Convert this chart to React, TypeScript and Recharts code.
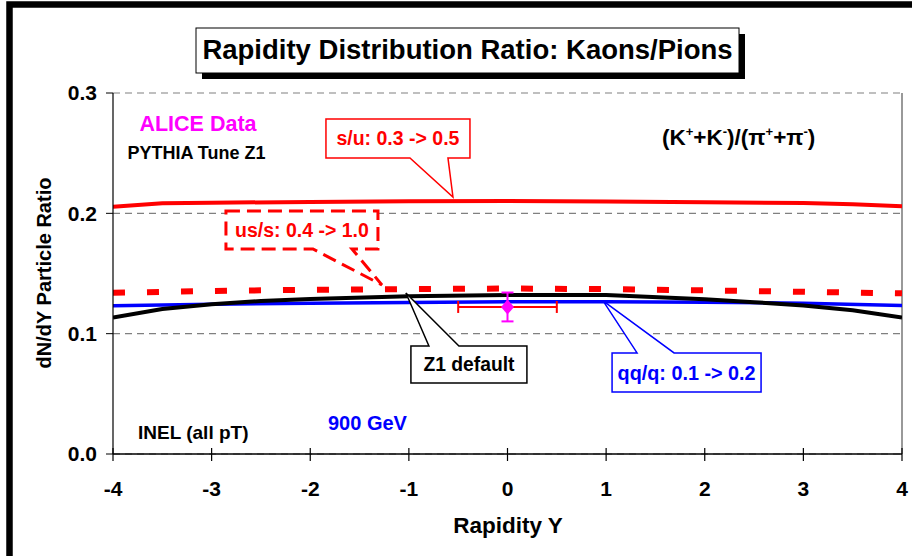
import React from "react";
import {
  ComposedChart,
  Line,
  Scatter,
  ErrorBar,
  XAxis,
  YAxis,
  CartesianGrid,
  ReferenceLine,
  ReferenceDot,
} from "recharts";

// ---------- data ----------
const xTicks = [-4, -3, -2, -1, 0, 1, 2, 3, 4];
const yTicks = [0, 0.1, 0.2, 0.3];

const suX = [-4, -3.5, -3, -2, -1, 0, 1, 2, 3, 3.5, 4];
const suY = [0.2055, 0.2083, 0.2088, 0.2095, 0.21, 0.2103, 0.2098, 0.2093, 0.2085, 0.2076, 0.2058];

const ussX = [-4, -3, -2, -1, 0, 1, 2, 3, 4];
const ussY = [0.134, 0.1355, 0.1365, 0.137, 0.1375, 0.137, 0.136, 0.1348, 0.1335];

const z1X = [-4, -3.5, -3, -2.5, -2, -1, 0, 1, 2, 2.5, 3, 3.5, 4];
const z1Y = [0.1135, 0.1205, 0.1245, 0.1272, 0.1288, 0.131, 0.1322, 0.1322, 0.1287, 0.1262, 0.1235, 0.1195, 0.1135];

const qqX = [-4, -3, -2, -1, 0, 1, 2, 3, 4];
const qqY = [0.1232, 0.1245, 0.1252, 0.126, 0.1265, 0.1266, 0.1262, 0.1252, 0.1235];

const aliceX = [0];
const aliceY = [0.1222];
const aliceErrX = [0.5];
const aliceErrY = [0.012];

// callout anchors (data coordinates of pointer tips) and texts
const calloutTexts = ["s/u: 0.3 -> 0.5", "us/s: 0.4 -> 1.0", "Z1 default", "qq/q: 0.1 -> 0.2"];
const calloutTipX = [-0.553, -1.273, -1.03, 0.969];
const calloutTipY = [0.2136, 0.1405, 0.1338, 0.1272];

const toPts = (xs: number[], ys: number[]) => xs.map((x, i) => ({ x, y: ys[i] }));
const suData = toPts(suX, suY);
const ussData = toPts(ussX, ussY);
const z1Data = toPts(z1X, z1Y);
const qqData = toPts(qqX, qqY);
const aliceData = aliceX.map((x, i) => ({ x, y: aliceY[i], ex: aliceErrX[i], ey: aliceErrY[i] }));

// ---------- styles ----------
const FONT = "'Liberation Sans', Arial, sans-serif";
const RED = "#FF0000";
const BLUE = "#0000FF";
const MAGENTA = "#FF00FF";

type CalloutStyle = {
  bx: number; by: number; w: number; h: number; b1: number; b2: number;
  side: "top" | "bottom"; color: string; dashed?: boolean; fontSize: number;
};
const calloutStyles: CalloutStyle[] = [
  { bx: -127, by: -78, w: 144, h: 39, b1: 84, b2: 122, side: "bottom", color: RED, fontSize: 19.5 },
  { bx: -156, by: -74, w: 152, h: 38, b1: 87, b2: 126, side: "bottom", color: RED, dashed: true, fontSize: 19.5 },
  { bx: 5, by: 53, w: 116, h: 37, b1: 18, b2: 48, side: "top", color: "#000", fontSize: 19.3 },
  { bx: 9, by: 52, w: 149, h: 39, b1: 25, b2: 62, side: "top", color: BLUE, fontSize: 19.8 },
];

function Callout(props: any) {
  const { cx, cy, st, text } = props as { cx: number; cy: number; st: CalloutStyle; text: string };
  if (cx == null || cy == null) return null;
  const L = cx + st.bx;
  const T = cy + st.by;
  const R = L + st.w;
  const B = T + st.h;
  let d: string;
  if (st.side === "bottom") {
    d = `M${L},${T} H${R} V${B} H${L + st.b2} L${cx},${cy} L${L + st.b1},${B} H${L} Z`;
  } else {
    d = `M${L},${T} H${L + st.b1} L${cx},${cy} L${L + st.b2},${T} H${R} V${B} H${L} Z`;
  }
  return (
    <g>
      <path
        d={d}
        fill="#fff"
        stroke={st.color}
        strokeWidth={st.dashed ? 3 : 1.5}
        strokeDasharray={st.dashed ? "14 7" : undefined}
        strokeLinejoin="miter"
      />
      <text
        x={(L + R) / 2}
        y={(T + B) / 2 + st.fontSize * 0.36}
        textAnchor="middle"
        fontFamily={FONT}
        fontWeight="bold"
        fontSize={st.fontSize}
        fill={st.color}
      >
        {text}
      </text>
    </g>
  );
}

function XTick(props: any) {
  const { x, y, payload } = props;
  return (
    <g>
      <line x1={x} x2={x} y1={y - 6} y2={y + 7} stroke="#000" strokeWidth={1.2} />
      <text x={x} y={y + 41.5} textAnchor="middle" fontFamily={FONT} fontWeight="bold" fontSize={21} fill="#000">
        {payload.value}
      </text>
    </g>
  );
}

function Diamond(props: any) {
  const { cx, cy } = props;
  if (cx == null || cy == null) return null;
  const w = 6.5;
  const h = 7.5;
  return <polygon points={`${cx},${cy - h} ${cx + w},${cy} ${cx},${cy + h} ${cx - w},${cy}`} fill={MAGENTA} />;
}

export default function App() {
  return (
    <div style={{ position: "absolute", left: 0, top: 0, width: 912, height: 556, background: "#fff", overflow: "hidden" }}>
      <ComposedChart
        width={912}
        height={556}
        margin={{ top: 93, right: 10, bottom: 72, left: 0 }}
        style={{ fontFamily: FONT }}
      >
        <CartesianGrid horizontal vertical={false} stroke="#808080" strokeDasharray="7 5" strokeWidth={1.2} />
        <XAxis
          type="number"
          dataKey="x"
          domain={[-4, 4]}
          ticks={xTicks}
          allowDataOverflow
          height={30}
          tickSize={0}
          tickMargin={0}
          tickLine={false}
          axisLine={{ stroke: "#000", strokeWidth: 1.5 }}
          tick={<XTick />}
          interval={0}
        />
        <YAxis
          type="number"
          domain={[0, 0.3]}
          ticks={yTicks}
          allowDataOverflow
          width={113}
          tickSize={7}
          tickMargin={9}
          tickFormatter={(v: number) => v.toFixed(1)}
          tick={{ fontSize: 21, fontWeight: "bold", fill: "#000", fontFamily: FONT }}
          tickLine={{ stroke: "#000" }}
          axisLine={{ stroke: "#000", strokeWidth: 1.2 }}
          interval={0}
        />
        <ReferenceLine x={4} stroke="#555" strokeWidth={1.2} />
        <Line data={qqData} dataKey="y" type="linear" stroke={BLUE} strokeWidth={3.5} dot={false} isAnimationActive={false} />
        <Line data={z1Data} dataKey="y" type="linear" stroke="#000" strokeWidth={4} dot={false} isAnimationActive={false} />
        <Line data={suData} dataKey="y" type="linear" stroke={RED} strokeWidth={4} dot={false} isAnimationActive={false} />
        <Line
          data={ussData}
          dataKey="y"
          type="linear"
          stroke={RED}
          strokeWidth={6}
          strokeDasharray="12 22"
          dot={false}
          isAnimationActive={false}
        />
        <Scatter data={aliceData} dataKey="y" shape={<Diamond />} isAnimationActive={false}>
          <ErrorBar dataKey="ex" direction="x" stroke={RED} strokeWidth={2} width={6} />
          <ErrorBar dataKey="ey" direction="y" stroke={MAGENTA} strokeWidth={2} width={6} />
        </Scatter>
        {calloutTexts.map((t, i) => (
          <ReferenceDot
            key={t}
            x={calloutTipX[i]}
            y={calloutTipY[i]}
            r={0}
            shape={(p: any) => <Callout cx={p.cx} cy={p.cy} st={calloutStyles[i]} text={t} />}
          />
        ))}
      </ComposedChart>
      <svg
        width={912}
        height={556}
        style={{ position: "absolute", left: 0, top: 0, pointerEvents: "none" }}
        fontFamily={FONT}
      >
        <rect x={9.5} y={4.5} width={1000} height={700} fill="none" stroke="#000" strokeWidth={6.5} />
        <rect x={202} y={34} width={543} height={45} fill="#000" />
        <rect x={196} y={28} width={543} height={45} fill="#fff" stroke="#000" strokeWidth={1} />
        <text x={467.5} y={59} textAnchor="middle" fontWeight="bold" fontSize={27.5} fill="#000">
          Rapidity Distribution Ratio: Kaons/Pions
        </text>
        <text transform="translate(51,273) rotate(-90)" textAnchor="middle" fontWeight="bold" fontSize={20} fill="#000">
          dN/dY Particle Ratio
        </text>
        <text x={508} y={533} textAnchor="middle" fontWeight="bold" fontSize={22.5} fill="#000">
          Rapidity Y
        </text>
        <text x={198} y={131} textAnchor="middle" fontWeight="bold" fontSize={21.5} fill={MAGENTA}>
          ALICE Data
        </text>
        <text x={196.5} y={158.5} textAnchor="middle" fontWeight="bold" fontSize={18} fill="#000">
          PYTHIA Tune Z1
        </text>
        <text x={662} y={145} fontWeight="bold" fontSize={22.5} fill="#000">
          (K
          <tspan fontSize={13} dy={-9}>+</tspan>
          <tspan dy={9}>+K</tspan>
          <tspan fontSize={13} dy={-9}>-</tspan>
          <tspan dy={9}>)/(π</tspan>
          <tspan fontSize={13} dy={-9}>+</tspan>
          <tspan dy={9}>+π</tspan>
          <tspan fontSize={13} dy={-9}>-</tspan>
          <tspan dy={9}>)</tspan>
        </text>
        <text x={138} y={439} fontWeight="bold" fontSize={19} fill="#000">
          INEL (all pT)
        </text>
        <text x={328} y={430} fontWeight="bold" fontSize={20} fill={BLUE}>
          900 GeV
        </text>
      </svg>
    </div>
  );
}
